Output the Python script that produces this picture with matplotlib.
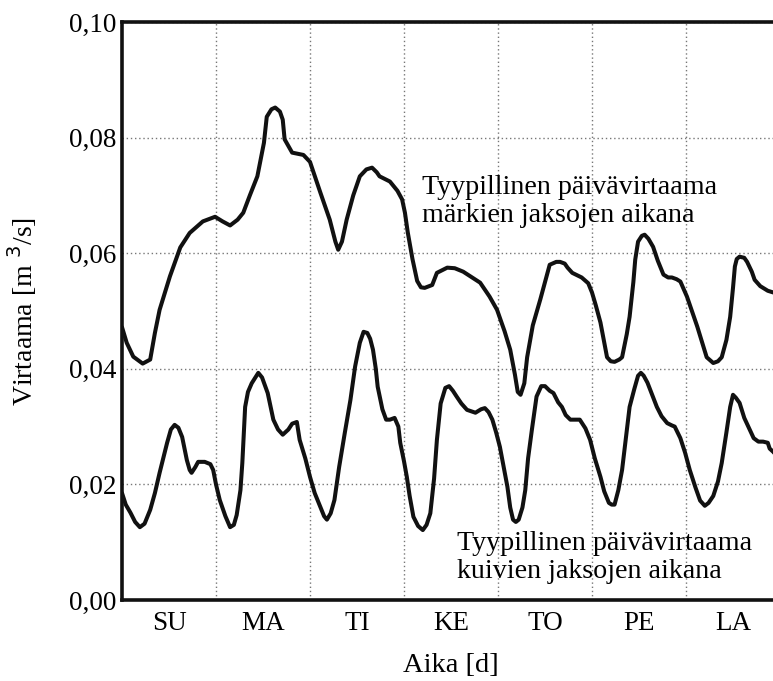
import matplotlib
matplotlib.use("Agg")
import matplotlib.pyplot as plt
import numpy as np

plt.rcParams['font.family'] = ['Liberation Serif', 'DejaVu Serif']

# day names (Sunday .. Saturday)
days = ["SU", "MA", "TI", "KE", "TO", "PE", "LA"]
yticks = [0.00, 0.02, 0.04, 0.06, 0.08, 0.10]

# typical daily flow during wet periods, time in days
wet_t = [0.00, 0.05, 0.12, 0.22, 0.30, 0.35, 0.40, 0.51, 0.62, 0.72, 0.86, 0.99,
         1.07, 1.15, 1.23, 1.29, 1.36, 1.44, 1.51, 1.54, 1.59, 1.63, 1.68, 1.71,
         1.73, 1.81, 1.93, 2.00, 2.11, 2.21, 2.27, 2.30, 2.34, 2.39, 2.46, 2.53,
         2.60, 2.66, 2.71, 2.74, 2.85, 2.93, 2.98, 3.01, 3.04, 3.09, 3.14, 3.18,
         3.22, 3.30, 3.35, 3.46, 3.54, 3.63, 3.81, 3.91, 3.99, 4.07, 4.13, 4.18,
         4.21, 4.24, 4.28, 4.31, 4.37, 4.45, 4.55, 4.62, 4.66, 4.71, 4.74, 4.79,
         4.89, 4.96, 5.00, 5.04, 5.09, 5.16, 5.20, 5.24, 5.29, 5.32, 5.37, 5.40,
         5.44, 5.46, 5.49, 5.53, 5.56, 5.60, 5.65, 5.70, 5.76, 5.81, 5.85, 5.90,
         5.94, 6.01, 6.12, 6.22, 6.29, 6.34, 6.38, 6.43, 6.47, 6.50, 6.52, 6.54,
         6.57, 6.62, 6.65, 6.70, 6.73, 6.79, 6.82, 6.87, 6.93, 7.00]
wet_q = [0.0472, 0.0445, 0.0421, 0.0409, 0.0416, 0.0462, 0.0502, 0.0560, 0.0610, 0.0635, 0.0655, 0.0663,
         0.0655, 0.0648, 0.0658, 0.0670, 0.0700, 0.0733, 0.0791, 0.0836, 0.0849, 0.0852, 0.0845, 0.0831,
         0.0797, 0.0774, 0.0770, 0.0758, 0.0705, 0.0658, 0.0620, 0.0606, 0.0620, 0.0658, 0.0700, 0.0733,
         0.0745, 0.0748, 0.0740, 0.0733, 0.0724, 0.0708, 0.0693, 0.0670, 0.0636, 0.0590, 0.0552, 0.0541,
         0.0540, 0.0545, 0.0566, 0.0575, 0.0574, 0.0568, 0.0549, 0.0525, 0.0502, 0.0465, 0.0433, 0.0390,
         0.0360, 0.0355, 0.0375, 0.0420, 0.0475, 0.0520, 0.0580, 0.0585, 0.0585, 0.0582, 0.0575, 0.0566,
         0.0558, 0.0548, 0.0532, 0.0510, 0.0480, 0.0420, 0.0413, 0.0412, 0.0416, 0.0420, 0.0460, 0.0490,
         0.0550, 0.0589, 0.0620, 0.0630, 0.0632, 0.0625, 0.0611, 0.0587, 0.0563, 0.0558, 0.0558, 0.0555,
         0.0551, 0.0525, 0.0473, 0.0420, 0.0410, 0.0413, 0.0420, 0.0450, 0.0490, 0.0540, 0.0577, 0.0590,
         0.0594, 0.0592, 0.0585, 0.0568, 0.0554, 0.0543, 0.0540, 0.0535, 0.0532, 0.0530]

# typical daily flow during dry periods
dry_t = [0.00, 0.04, 0.09, 0.14, 0.19, 0.24, 0.30, 0.35, 0.40, 0.48, 0.52, 0.56,
         0.60, 0.64, 0.69, 0.72, 0.74, 0.78, 0.81, 0.88, 0.94, 0.97, 1.00, 1.04,
         1.10, 1.15, 1.19, 1.22, 1.26, 1.28, 1.31, 1.34, 1.38, 1.45, 1.49, 1.55,
         1.61, 1.66, 1.71, 1.77, 1.81, 1.86, 1.89, 1.95, 2.00, 2.05, 2.11, 2.15,
         2.18, 2.22, 2.26, 2.31, 2.37, 2.43, 2.48, 2.53, 2.57, 2.61, 2.64, 2.67,
         2.70, 2.72, 2.77, 2.81, 2.85, 2.90, 2.94, 2.96, 3.00, 3.03, 3.06, 3.10,
         3.15, 3.20, 3.24, 3.28, 3.32, 3.35, 3.39, 3.44, 3.48, 3.52, 3.56, 3.61,
         3.67, 3.76, 3.82, 3.86, 3.90, 3.94, 3.98, 4.02, 4.06, 4.10, 4.13, 4.16,
         4.19, 4.22, 4.26, 4.29, 4.32, 4.36, 4.41, 4.46, 4.50, 4.55, 4.59, 4.64,
         4.68, 4.72, 4.77, 4.83, 4.87, 4.93, 4.98, 5.03, 5.09, 5.13, 5.18, 5.21,
         5.24, 5.28, 5.32, 5.36, 5.40, 5.45, 5.49, 5.52, 5.55, 5.59, 5.64, 5.69,
         5.74, 5.80, 5.85, 5.88, 5.94, 5.99, 6.04, 6.10, 6.15, 6.20, 6.24, 6.29,
         6.34, 6.38, 6.43, 6.47, 6.50, 6.53, 6.57, 6.62, 6.68, 6.72, 6.77, 6.82,
         6.87, 6.89, 6.93, 7.00]
dry_q = [0.0185, 0.0165, 0.0151, 0.0135, 0.0126, 0.0132, 0.0156, 0.0185, 0.0220, 0.0272, 0.0295, 0.0303,
         0.0298, 0.0282, 0.0242, 0.0225, 0.0220, 0.0230, 0.0239, 0.0239, 0.0235, 0.0225, 0.0200, 0.0173,
         0.0145, 0.0126, 0.0130, 0.0147, 0.0190, 0.0237, 0.0334, 0.0360, 0.0375, 0.0393, 0.0385, 0.0358,
         0.0312, 0.0295, 0.0286, 0.0295, 0.0305, 0.0308, 0.0277, 0.0245, 0.0213, 0.0185, 0.0161, 0.0145,
         0.0139, 0.0150, 0.0173, 0.0230, 0.0289, 0.0346, 0.0404, 0.0445, 0.0464, 0.0462, 0.0452, 0.0433,
         0.0400, 0.0369, 0.0330, 0.0312, 0.0312, 0.0315, 0.0300, 0.0272, 0.0240, 0.0213, 0.0180, 0.0144,
         0.0128, 0.0121, 0.0130, 0.0150, 0.0210, 0.0277, 0.0340, 0.0367, 0.0370, 0.0362, 0.0352, 0.0340,
         0.0329, 0.0324, 0.0330, 0.0332, 0.0325, 0.0312, 0.0290, 0.0265, 0.0230, 0.0196, 0.0160, 0.0139,
         0.0135, 0.0139, 0.0160, 0.0190, 0.0245, 0.0294, 0.0352, 0.0370, 0.0370, 0.0362, 0.0358, 0.0342,
         0.0334, 0.0320, 0.0312, 0.0312, 0.0312, 0.0297, 0.0277, 0.0245, 0.0213, 0.0188, 0.0168, 0.0165,
         0.0165, 0.0190, 0.0225, 0.0280, 0.0334, 0.0365, 0.0388, 0.0393, 0.0388, 0.0376, 0.0355, 0.0334,
         0.0318, 0.0306, 0.0302, 0.0300, 0.0280, 0.0255, 0.0225, 0.0195, 0.0172, 0.0163, 0.0168, 0.0180,
         0.0205, 0.0237, 0.0290, 0.0334, 0.0355, 0.0350, 0.0341, 0.0315, 0.0294, 0.0280, 0.0274, 0.0274,
         0.0272, 0.0262, 0.0256, 0.0240]

fig = plt.figure(figsize=(7.73, 6.81), dpi=100)
# plot area runs past the right edge of the figure on purpose
ax = fig.add_axes([122 / 773, 81 / 681, 658 / 773, 578 / 681])

ax.plot(wet_t, wet_q, color="#111111", lw=2.9, solid_joinstyle="round", solid_capstyle="round")
ax.plot(dry_t, dry_q, color="#111111", lw=2.9, solid_joinstyle="round", solid_capstyle="round")

ax.set_xlim(0, 7)
ax.set_ylim(0, 0.10)

# day names in the middle of each day, grid on the day boundaries
ax.set_xticks(np.arange(len(days)) + 0.5)
ax.set_xticklabels(days)
ax.set_xticks(np.arange(1, 7), minor=True)
ax.set_yticks(yticks)
ax.set_yticklabels([f"{v:.2f}".replace(".", ",") for v in yticks])
ax.tick_params(which="both", length=0, labelsize=19.5, pad=4)
ax.tick_params(axis="x", pad=8)
ax.grid(which="minor", axis="x", color="#777777", linestyle=(0, (1, 2)), lw=1)
ax.grid(which="major", axis="y", color="#777777", linestyle=(0, (1, 2)), lw=1)
ax.grid(which="major", axis="x", visible=False)

for s in ["left", "bottom", "top"]:
    ax.spines[s].set_linewidth(2.6)
    ax.spines[s].set_color("#111111")
ax.spines["right"].set_visible(False)

ax.set_xlabel("Aika [d]", fontsize=20.5, labelpad=12)
ax.set_ylabel("Virtaama [m $^3$/s]", fontsize=20)
ax.yaxis.set_label_coords(-0.126, 0.5)

ax.text(0.456, 0.69, "Tyypillinen päivävirtaama\nmärkien jaksojen aikana",
        transform=ax.transAxes, fontsize=20.2, va="center", ha="left", linespacing=1.17)
ax.text(0.509, 0.074, "Tyypillinen päivävirtaama\nkuivien jaksojen aikana",
        transform=ax.transAxes, fontsize=20.2, va="center", ha="left", linespacing=1.17)

fig.savefig("out.png", dpi=100)
